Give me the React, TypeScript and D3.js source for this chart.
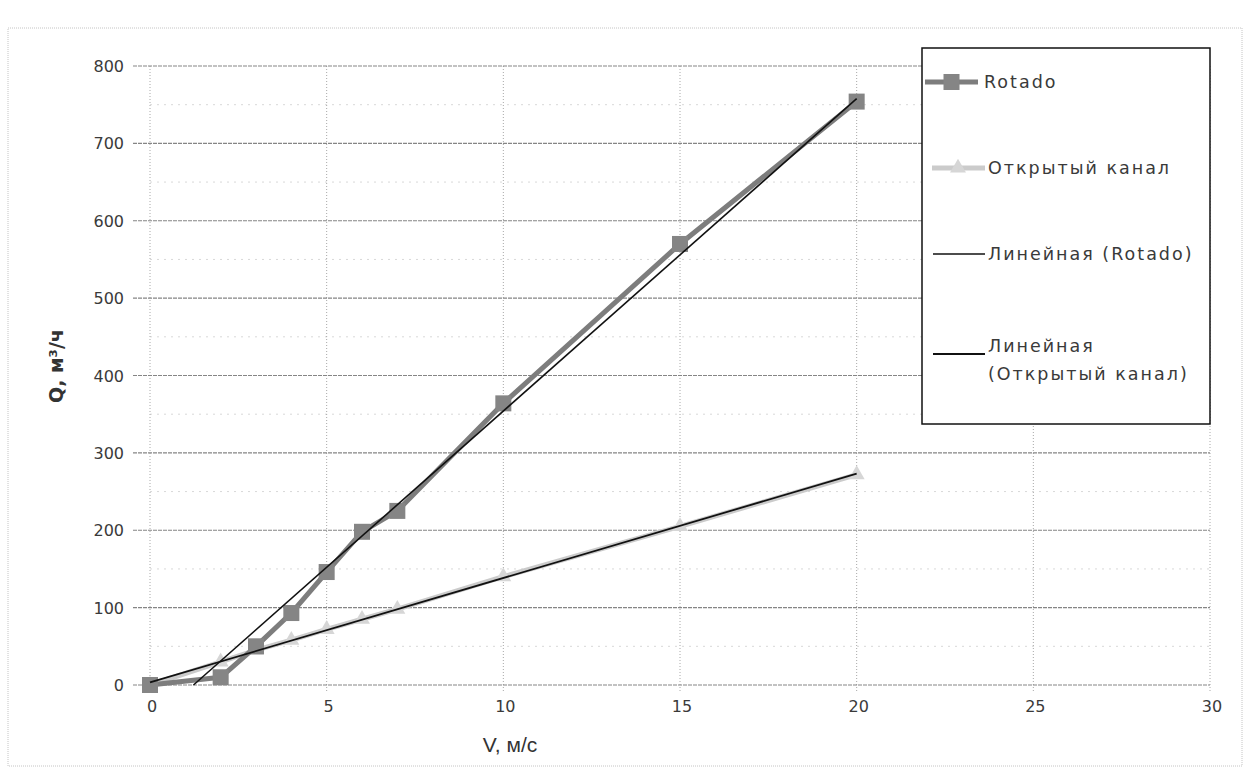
import React from "react";
import * as d3 from "d3";

// ---- data ----
const velocities = [0, 2, 3, 4, 5, 6, 7, 10, 15, 20];
const rotadoQ = [0, 10, 50, 93, 146, 198, 225, 364, 570, 754];
const openChannelQ = [0, 30, 45, 58, 72, 85, 98, 140, 205, 272];
const xTicks = [0, 5, 10, 15, 20, 25, 30];
const yTicks = [0, 100, 200, 300, 400, 500, 600, 700, 800];
const seriesNames = ["Rotado", "Открытый канал"];
const trendNames = ["Линейная (Rotado)", ["Линейная", "(Открытый канал)"]];
const xTitle = "V, м/с";
const yTitle = "Q, м³/ч";

function linearFit(xs: number[], ys: number[]) {
  const n = xs.length;
  const mx = d3.mean(xs)!;
  const my = d3.mean(ys)!;
  let num = 0, den = 0;
  for (let i = 0; i < n; i++) {
    num += (xs[i] - mx) * (ys[i] - my);
    den += (xs[i] - mx) * (xs[i] - mx);
  }
  const slope = num / den;
  return { slope, intercept: my - slope * mx };
}

export default function App() {
  const W = 1246, H = 771;
  const x = d3.scaleLinear().domain([0, 30]).range([150, 1210]);
  const y = d3.scaleLinear().domain([0, 800]).range([685, 66]);
  const font = "'DejaVu Sans', Verdana, sans-serif";
  const textCol = "#3a3a3a";

  const pts = (ys: number[]) => velocities.map((v, i) => [v, ys[i]] as [number, number]);
  const line = d3.line<[number, number]>().x(d => x(d[0])).y(d => y(d[1]));

  const trendSeg = (ys: number[]) => {
    const { slope, intercept } = linearFit(velocities, ys);
    const x0 = Math.max(0, intercept < 0 ? -intercept / slope : 0);
    const x1 = d3.max(velocities)!;
    return [[x0, slope * x0 + intercept], [x1, slope * x1 + intercept]] as [number, number][];
  };

  const rotCol = "#7d7d7d";
  const openCol = "#cbcbcb";
  const sq = 16;
  const tri = d3.symbol().type(d3.symbolTriangle).size(110);

  const minorY = d3.range(50, 800, 100);

  // legend
  const lgX = 922, lgY = 48, lgW = 288, lgH = 376;
  const lgRows = [82, 168, 254, 354];
  const lgFs = 17.5;
  const lgLs = 2;

  return (
    <svg width={W} height={H} style={{ position: "absolute", left: 0, top: 0, display: "block", background: "#fff" }}>
      <rect x={8} y={28} width={1234} height={738} fill="#fff" stroke="#c4c4c4" strokeDasharray="1,1" />
      {/* minor grid */}
      {minorY.map(v => (
        <line key={"mn" + v} x1={x(0)} x2={x(30)} y1={y(v)} y2={y(v)} stroke="#d8d8d8" strokeDasharray="2,5" />
      ))}
      {/* vertical grid */}
      {xTicks.map(v => (
        <line key={"vx" + v} x1={x(v)} x2={x(v)} y1={y(800)} y2={y(0) + 7} stroke="#a8a8a8" strokeDasharray="1,2" />
      ))}
      {/* horizontal grid */}
      {yTicks.map(v => (
        <line key={"hy" + v} x1={x(0) - 17} x2={x(30)} y1={y(v)} y2={y(v)} stroke="#858585" strokeWidth={1.2} strokeDasharray="4,1" />
      ))}
      {/* tick labels */}
      {yTicks.map(v => (
        <text key={"ty" + v} x={124} y={y(v) + 6} textAnchor="end" fontFamily={font} fontSize={16} fill={textCol}>{v}</text>
      ))}
      {xTicks.map(v => (
        <text key={"tx" + v} x={x(v) + 2} y={712} textAnchor="middle" fontFamily={font} fontSize={16} fill={textCol}>{v}</text>
      ))}
      {/* axis titles */}
      <text x={510} y={752} textAnchor="middle" fontFamily="'Liberation Sans', Arial, sans-serif" fontSize={21} fill="#333">{xTitle}</text>
      <text transform="translate(63,366) rotate(-90)" textAnchor="middle" fontFamily={font} fontSize={19} fontWeight="bold" fill="#333">{yTitle}</text>

      {/* series: open channel */}
      <path d={line(pts(openChannelQ))!} fill="none" stroke={openCol} strokeWidth={5} strokeLinejoin="round" />
      {pts(openChannelQ).map((p, i) => (
        <path key={"o" + i} d={tri()!} transform={`translate(${x(p[0])},${y(p[1])})`} fill="#d6d6d6" />
      ))}
      {/* series: Rotado */}
      <path d={line(pts(rotadoQ))!} fill="none" stroke={rotCol} strokeWidth={5} strokeLinejoin="round" />
      {pts(rotadoQ).map((p, i) => (
        <rect key={"r" + i} x={x(p[0]) - sq / 2} y={y(p[1]) - sq / 2} width={sq} height={sq} fill="#858585" />
      ))}
      {/* trendlines */}
      <path d={line(trendSeg(rotadoQ))!} fill="none" stroke="#111" strokeWidth={1.6} />
      <path d={line(trendSeg(openChannelQ))!} fill="none" stroke="#111" strokeWidth={1.8} />

      {/* legend */}
      <rect x={lgX} y={lgY} width={lgW} height={lgH} fill="#fff" stroke="#111" strokeWidth={1.5} />
      <line x1={925} x2={978} y1={lgRows[0]} y2={lgRows[0]} stroke={rotCol} strokeWidth={5} />
      <rect x={951.5 - sq / 2} y={lgRows[0] - sq / 2} width={sq} height={sq} fill="#858585" />
      <text x={984} y={lgRows[0] + 6} fontFamily={font} fontSize={lgFs} letterSpacing={lgLs} fill={textCol}>{seriesNames[0]}</text>

      <line x1={932} x2={985} y1={lgRows[1]} y2={lgRows[1]} stroke={openCol} strokeWidth={5} />
      <path d={tri()!} transform={`translate(958,${lgRows[1]})`} fill="#d6d6d6" />
      <text x={988} y={lgRows[1] + 6} fontFamily={font} fontSize={lgFs} letterSpacing={lgLs} fill={textCol}>{seriesNames[1]}</text>

      <line x1={933} x2={985} y1={lgRows[2]} y2={lgRows[2]} stroke="#111" strokeWidth={1.6} />
      <text x={988} y={lgRows[2] + 6} fontFamily={font} fontSize={lgFs} letterSpacing={lgLs} fill={textCol}>{trendNames[0] as string}</text>

      <line x1={933} x2={985} y1={lgRows[3]} y2={lgRows[3]} stroke="#111" strokeWidth={1.8} />
      <text x={988} y={lgRows[3] - 2} fontFamily={font} fontSize={lgFs} letterSpacing={lgLs} fill={textCol}>{(trendNames[1] as string[])[0]}</text>
      <text x={988} y={lgRows[3] + 26} fontFamily={font} fontSize={lgFs} letterSpacing={lgLs} fill={textCol}>{(trendNames[1] as string[])[1]}</text>
    </svg>
  );
}
